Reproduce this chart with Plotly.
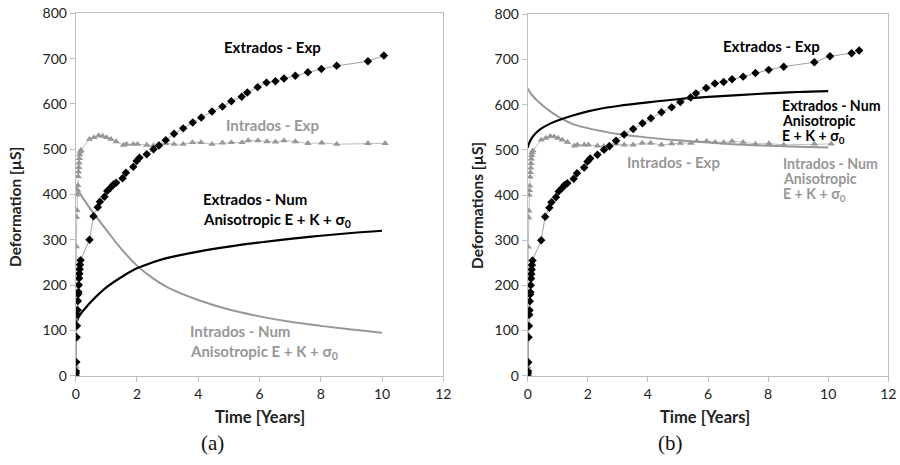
import plotly.graph_objects as go

# ---------------- data ----------------
ext_exp_t = [0, 0.005, 0.01, 0.02, 0.03, 0.04, 0.05, 0.06, 0.07, 0.08, 0.09, 0.10, 0.11, 0.12, 0.13, 0.14, 0.16,
             0.45, 0.58, 0.72, 0.79, 0.94, 1.03, 1.15, 1.23, 1.32, 1.53, 1.64, 1.88, 1.99, 2.08, 2.32, 2.54,
             2.72, 2.94, 3.21, 3.51, 3.82, 4.10, 4.45, 4.79, 5.08, 5.42, 5.60, 5.94, 6.23, 6.52, 6.80, 7.17,
             7.58, 8.02, 8.52, 9.54, 10.06]
ext_exp_v = [0, 5, 10, 30, 85, 110, 135, 145, 165, 180, 185, 200, 215, 225, 235, 245, 255,
             300, 352, 372, 384, 395, 408, 416, 422, 426, 436, 448, 461, 474, 481, 489, 500,
             508, 520, 534, 546, 559, 570, 583, 594, 606, 616, 625, 637, 647, 650, 656, 662,
             670, 677, 684, 694, 707]
ext_exp_t_b_extra = [10.78, 11.03]
ext_exp_v_b_extra = [714, 720]

int_exp_t = [0, 0.005, 0.01, 0.02, 0.03, 0.04, 0.05, 0.06, 0.07, 0.08, 0.09, 0.10, 0.11, 0.12, 0.13, 0.15, 0.17,
             0.45, 0.60, 0.75, 0.88, 1.01, 1.15, 1.32, 1.56, 1.66, 1.88, 2.02, 2.32, 2.54, 2.71, 2.94, 3.21,
             3.51, 3.81, 4.09, 4.45, 4.79, 5.08, 5.43, 5.63, 5.95, 6.24, 6.52, 6.80, 7.17, 7.58, 8.03, 8.52,
             9.54, 10.10]
int_exp_v = [0, 10, 20, 285, 350, 365, 400, 410, 420, 440, 450, 460, 470, 480, 488, 494, 498,
             522, 526, 530, 529, 526, 522, 517, 509, 511, 511, 511, 509, 508, 511, 513, 511,
             511, 515, 515, 511, 514, 515, 515, 519, 519, 517, 516, 519, 517, 513, 514, 511,
             513, 513]

num_t = [0, 0.05, 0.1, 0.2, 0.3, 0.5, 0.75, 1, 1.5, 2, 2.5, 3, 4, 5, 6, 7, 8, 9, 10]
ext_num_a = [110, 122, 130, 140, 148, 163, 180, 195, 218, 237, 250, 260, 274, 285, 294, 302, 309, 315, 320]
int_num_a = [420, 413, 407, 396, 386, 366, 344, 322, 279, 243, 216, 195, 167, 146, 131, 119, 110, 102, 95]
ext_num_b = [505, 515, 522, 532, 539, 549, 558, 565, 576, 585, 592, 597, 605, 612, 617, 621, 625, 628, 630]
int_num_b = [636, 630, 625, 617, 610, 598, 585, 574, 557, 548, 541, 535, 527, 521, 516, 512, 509, 507, 505]

x_ticks = [0, 2, 4, 6, 8, 10, 12]
y_ticks = [0, 100, 200, 300, 400, 500, 600, 700, 800]

BLACK = "#000000"
GRAY = "#979797"
LGRAY = "#bdbdbd"
AXC = "#bfbfbf"
FONT = "Lato"

W, H = 900, 465


def px_x(p):
    return p / W


def px_y(p):
    return 1 - p / H


fig = go.Figure()


def add_panel(xa, ya, ext_t, ext_v, ext_num, int_num):
    fig.add_trace(go.Scatter(x=int_exp_t, y=int_exp_v, mode="lines+markers", xaxis=xa, yaxis=ya,
                             line=dict(color=LGRAY, width=1),
                             marker=dict(symbol="triangle-up", size=6.5, color=GRAY), showlegend=False))
    fig.add_trace(go.Scatter(x=num_t, y=int_num, mode="lines", xaxis=xa, yaxis=ya, line_shape="spline",
                             line=dict(color=GRAY, width=2), showlegend=False))
    fig.add_trace(go.Scatter(x=num_t, y=ext_num, mode="lines", xaxis=xa, yaxis=ya, line_shape="spline",
                             line=dict(color=BLACK, width=2.2), showlegend=False))
    fig.add_trace(go.Scatter(x=ext_t, y=ext_v, mode="lines+markers", xaxis=xa, yaxis=ya,
                             line=dict(color="#a0a0a0", width=1),
                             marker=dict(symbol="diamond", size=6.5, color=BLACK), showlegend=False))


add_panel("x", "y", ext_exp_t, ext_exp_v, ext_num_a, int_num_a)
add_panel("x2", "y2", ext_exp_t + ext_exp_t_b_extra, ext_exp_v + ext_exp_v_b_extra, ext_num_b, int_num_b)

ax_common = dict(showgrid=False, zeroline=False, showline=True, linecolor=AXC, linewidth=1,
                 mirror=True, ticks="outside", ticklen=5, tickcolor=AXC, automargin=False,
                 tickfont=dict(family=FONT, size=14, color="#222"))

y_top_a, y_bot_a = 13.3, 375.7
y_top_b, y_bot_b = 14.3, 375.7

fig.update_layout(
    width=W, height=H, margin=dict(l=0, r=0, t=0, b=0),
    paper_bgcolor="white", plot_bgcolor="white", showlegend=False,
    xaxis=dict(domain=[px_x(75.7), px_x(443.3)], range=[0, 12], tickvals=x_ticks, anchor="y", **ax_common),
    yaxis=dict(domain=[px_y(y_bot_a), px_y(y_top_a)], range=[0, 800], tickvals=y_ticks, anchor="x", **ax_common),
    xaxis2=dict(domain=[px_x(527.7), px_x(888.3)], range=[0, 12], tickvals=x_ticks, anchor="y2", **ax_common),
    yaxis2=dict(domain=[px_y(y_bot_b), px_y(y_top_b)], range=[0, 800], tickvals=y_ticks, anchor="x2", **ax_common),
)

ann = []
LSIZE = 15


def label(text, x, y, xref, yref, color, xanchor="center", size=LSIZE, bold=True, family=FONT, angle=0):
    t = f"<b>{text}</b>" if bold else text
    ann.append(dict(text=t, x=x, y=y, xref=xref, yref=yref, showarrow=False, xanchor=xanchor,
                    yanchor="middle", textangle=angle, font=dict(family=family, size=size, color=color)))


S0 = "σ<sub>0</sub>"
# panel (a)
label("Extrados - Exp", 6.44, 725, "x", "y", BLACK)
label("Intrados - Exp", 6.41, 553, "x", "y", GRAY)
label("Extrados - Num", 4.1, 391, "x", "y", BLACK, "left")
label(f"Anisotropic E + K + {S0}", 4.1, 344, "x", "y", BLACK, "left")
label("Intrados - Num", 3.67, 99, "x", "y", GRAY, "left")
label(f"Anisotropic E + K + {S0}", 3.67, 52, "x", "y", GRAY, "left")
# panel (b)
RS = 14.2
label("Extrados - Exp", 8.1, 730, "x2", "y2", BLACK)
label("Extrados - Num", 8.4, 598, "x2", "y2", BLACK, "left", size=RS)
label("Anisotropic", 8.4, 565, "x2", "y2", BLACK, "left", size=RS)
label(f"E + K + {S0}", 8.4, 529, "x2", "y2", BLACK, "left", size=RS)
label("Intrados - Exp", 4.84, 473, "x2", "y2", GRAY)
label("Intrados - Num", 8.43, 469, "x2", "y2", GRAY, "left", size=RS)
label("Anisotropic", 8.43, 436, "x2", "y2", GRAY, "left", size=RS)
label(f"E + K + {S0}", 8.43, 402, "x2", "y2", GRAY, "left", size=RS)

# axis titles
DARK = "#222"
label("Deformation [µS]", px_x(15), px_y(207), "paper", "paper", DARK, size=15.5, angle=-90)
label("Deformations [µS]", px_x(477), px_y(206), "paper", "paper", DARK, size=15.5, angle=-90)
label("Time [Years]", px_x(260), px_y(417), "paper", "paper", DARK, size=16.5)
label("Time [Years]", px_x(705), px_y(417), "paper", "paper", DARK, size=16.5)
# sub labels
label("(a)", px_x(212), px_y(443), "paper", "paper", "#111", size=21, bold=False, family="Liberation Serif")
label("(b)", px_x(670), px_y(443), "paper", "paper", "#111", size=21, bold=False, family="Liberation Serif")

fig.update_layout(annotations=ann)
fig.write_html("out.html", config={"displayModeBar": False})

# remove the browser's default page margin so the figure sits at the window origin
with open("out.html", "r", encoding="utf-8") as f:
    html = f.read()
html = html.replace("<head>", "<head><style>html,body{margin:0;padding:0;overflow:hidden;}</style>", 1)
with open("out.html", "w", encoding="utf-8") as f:
    f.write(html)
